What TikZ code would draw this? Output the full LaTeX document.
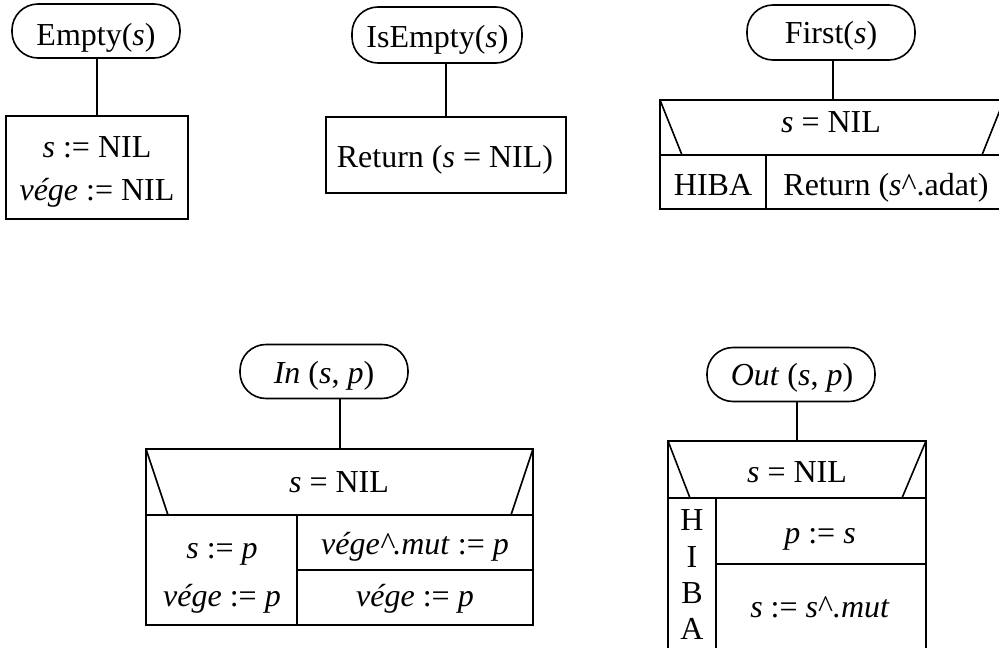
\documentclass[tikz,border=0pt]{standalone}
\usepackage{fontspec}
\setmainfont{Liberation Serif}
\tikzset{
  term/.style={draw, rectangle, rounded corners=26pt, minimum width=168pt, minimum height=54pt, inner sep=0pt},
  stmtbox/.style={draw, rectangle, inner sep=0pt},
  txt/.style={inner sep=0pt, anchor=base, font=\fontsize{32}{40}\selectfont},
}
\begin{document}
\begin{tikzpicture}[x=1pt,y=-1pt,line width=1.6pt]
\useasboundingbox (0,0) rectangle (999,648);
\clip (0,0) rectangle (999,648);
% Empty
\node[term] (empty) at (96,31) {};
\node[txt] (emptyt) at (96,45) {Empty(\textit{s})};
\node[stmtbox, minimum width=182pt, minimum height=103pt] (emptybox) at (97,167.5) {};
\node[txt] (e1) at (97,157) {\textit{s} := NIL};
\node[txt] (e2) at (97,200) {\textit{vége} := NIL};
\draw (emptybox.north) -- (emptybox.north |- empty.south);
% IsEmpty
\node[term, minimum width=170pt, minimum height=56pt] (isempty) at (437,35) {};
\node[txt] (isemptyt) at (437.5,47) {IsEmpty(\textit{s})};
\node[stmtbox, minimum width=240pt, minimum height=76pt] (isbox) at (446,155) {};
\node[txt] (ist) at (445,167) {Return (\textit{s} = NIL)};
\draw (isbox.north) -- (isbox.north |- isempty.south);
% First
\node[term, minimum height=55pt] (first) at (831,32.5) {};
\node[txt] (firstt) at (831,43) {First(\textit{s})};
\coordinate (ftop) at (833,100);
\draw (ftop) -- (ftop |- first.south);
\draw (660,100) rectangle (1010,209);
\draw (660,155) -- (1010,155);
\draw (660,100) -- (682,155);
\draw (1004,100) -- (982,155);
\draw (766,155) -- (766,209);
\node[txt] (fc) at (831,132) {\textit{s} = NIL};
\node[txt] (fh) at (713,195) {HIBA};
\node[txt] (fr) at (886,195) {Return (\textit{s}\textasciicircum.adat)};
% In
\node[term] (in) at (324,371.5) {};
\node[txt] (int) at (324,383) {\textit{In} (\textit{s}, \textit{p})};
\coordinate (itop) at (340,449);
\draw (itop) -- (itop |- in.south);
\draw (146,449) rectangle (533,625);
\draw (146,515) -- (533,515);
\draw (146,449) -- (168,515);
\draw (533,449) -- (511,515);
\draw (297,515) -- (297,625);
\draw (297,570) -- (533,570);
\node[txt] (ic) at (339,492) {\textit{s} = NIL};
\node[txt] (i1) at (222,558) {\textit{s} := \textit{p}};
\node[txt] (i2) at (222,606) {\textit{vége} := \textit{p}};
\node[txt] (i3) at (415,554) {\textit{vége\textasciicircum.mut} := \textit{p}};
\node[txt] (i4) at (415,606) {\textit{vége} := \textit{p}};
% Out
\node[term] (out) at (791,374.5) {};
\node[txt] (outt) at (792,385) {\textit{Out} (\textit{s}, \textit{p})};
\coordinate (otop) at (797,441);
\draw (otop) -- (otop |- out.south);
\draw (668,441) rectangle (926,680);
\draw (668,498) -- (926,498);
\draw (668,441) -- (690,498);
\draw (926,441) -- (902,498);
\draw (716,498) -- (716,680);
\draw (716,564) -- (926,564);
\node[txt] (oc) at (797,482) {\textit{s} = NIL};
\node[txt] (o1) at (820,543) {\textit{p} := \textit{s}};
\node[txt] (o2) at (820,617) {\textit{s} := \textit{s}\textasciicircum\textit{.mut}};
\node[txt] (oh) at (692,530) {H};
\node[txt] (oi) at (692,567) {I};
\node[txt] (ob) at (692,603) {B};
\node[txt] (oa) at (692,639) {A};
\end{tikzpicture}
\end{document}
